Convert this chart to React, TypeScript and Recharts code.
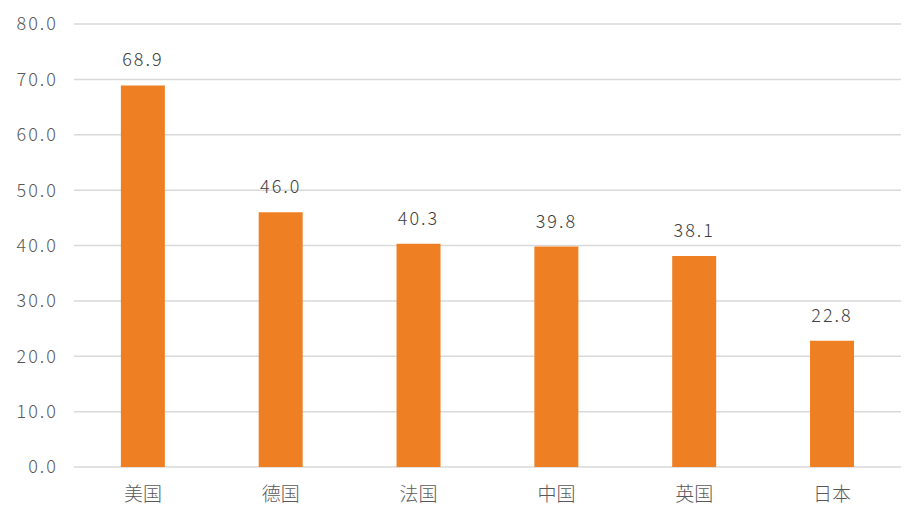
import { Bar, BarChart, CartesianGrid, LabelList, XAxis, YAxis } from "recharts";

const countries = ["美国", "德国", "法国", "中国", "英国", "日本"];
const values = [68.9, 46.0, 40.3, 39.8, 38.1, 22.8];
const yTicks = [0, 10, 20, 30, 40, 50, 60, 70, 80];

const data = countries.map((name, i) => ({ name, value: values[i] }));

const FONT = "'Noto Sans CJK SC', 'Noto Sans', sans-serif";

export default function App() {
  return (
    <div style={{ position: "fixed", left: 0, top: 0, width: 924, height: 518, background: "#fff" }}>
      <BarChart
        width={924}
        height={518}
        data={data}
        margin={{ top: 24, right: 23, bottom: 21, left: 0 }}
        barCategoryGap="34%"
      >
        <CartesianGrid vertical={false} stroke="#d9d9d9" strokeWidth={1.5} />
        <XAxis
          dataKey="name"
          axisLine={false}
          tickLine={false}
          tickMargin={15}
          height={30}
          tick={{ fill: "#595959", fontSize: 19, fontFamily: FONT, fontWeight: 300 }}
        />
        <YAxis
          width={74}
          domain={[0, 80]}
          ticks={yTicks}
          axisLine={false}
          tickLine={false}
          tickMargin={10}
          tickFormatter={(v: number) => v.toFixed(1)}
          tick={{ fill: "#595959", fontSize: 18, fontFamily: FONT, fontWeight: 300, letterSpacing: 2 }}
        />
        <Bar dataKey="value" fill="#EE8023" isAnimationActive={false}>
          <LabelList
            dataKey="value"
            position="top"
            offset={19}
            formatter={(v: number) => v.toFixed(1)}
            style={{ fill: "#404040", fontSize: 18, fontFamily: FONT, fontWeight: 300, letterSpacing: 2 }}
          />
        </Bar>
      </BarChart>
    </div>
  );
}
